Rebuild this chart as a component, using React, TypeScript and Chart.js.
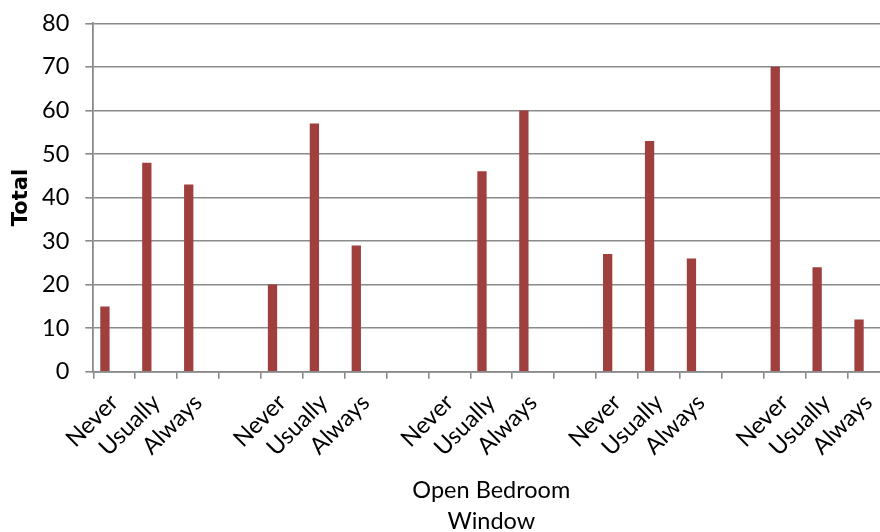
import React, { useEffect, useRef } from "react";
import { Chart, registerables } from "chart.js";

Chart.register(...registerables);

// Three answer levels, repeated per group, with an empty slot between groups
const categories = [
  "Never", "Usually", "Always", "",
  "Never", "Usually", "Always", "",
  "Never", "Usually", "Always", "",
  "Never", "Usually", "Always", "",
  "Never", "Usually", "Always",
];

const totals = [
  15, 48, 43, null,
  20, 57, 29, null,
  0, 46, 60, null,
  27, 53, 26, null,
  70, 24, 12,
];

// Empty companion series that share each slot with the totals
const emptySeriesA = categories.map(() => null);
const emptySeriesB = categories.map(() => null);

const yTicks = [0, 10, 20, 30, 40, 50, 60, 70, 80];

const FONT = "Lato, 'Open Sans', sans-serif";
const FONT_SIZE = 23.5;
const GRID = "#8a8a8a";
const BAR = "#a0403e";

export default function App() {
  const canvasRef = useRef<HTMLCanvasElement | null>(null);

  useEffect(() => {
    const canvas = canvasRef.current;
    if (!canvas) return;
    const chart = new Chart(canvas, {
      type: "bar",
      data: {
        labels: categories,
        datasets: [
          { label: "Total", data: totals, backgroundColor: BAR, borderWidth: 0 },
          { label: "", data: emptySeriesA, backgroundColor: BAR },
          { label: "", data: emptySeriesB, backgroundColor: BAR },
        ],
      },
      options: {
        responsive: false,
        animation: false,
        devicePixelRatio: 1,
        layout: { padding: { top: 23.3, right: 4.7, left: 0, bottom: 0 } },
        datasets: {
          bar: { categoryPercentage: 0.667, barPercentage: 1 },
        },
        plugins: {
          legend: { display: false },
          tooltip: { enabled: false },
        },
        scales: {
          x: {
            type: "category",
            offset: true,
            grid: {
              offset: true,
              drawOnChartArea: false,
              drawTicks: true,
              tickLength: 7,
              color: GRID,
              lineWidth: 1.6,
            },
            border: { color: GRID, width: 1.8 },
            ticks: {
              autoSkip: false,
              maxRotation: 45,
              minRotation: 45,
              color: "#000",
              font: { family: FONT, size: FONT_SIZE },
              padding: 10,
            },
            title: {
              display: true,
              text: ["Open Bedroom", "Window"],
              color: "#000",
              font: { family: FONT, size: FONT_SIZE, lineHeight: 1.32 },
              padding: { top: 0, bottom: -5 },
            },
            afterFit: (scale: any) => {
              scale.height = 160.3;
              scale.paddingLeft = 0;
              scale.paddingRight = 0;
            },
          },
          y: {
            min: 0,
            max: 80,
            afterBuildTicks: (scale: any) => {
              scale.ticks = yTicks.map((v) => ({ value: v }));
            },
            grid: {
              color: GRID,
              lineWidth: 1.6,
              tickLength: 8,
            },
            border: { color: GRID, width: 1.8 },
            ticks: {
              color: "#000",
              font: { family: FONT, size: FONT_SIZE },
              padding: 16,
            },
            title: {
              display: true,
              text: "Total",
              color: "#000",
              font: { family: "'DejaVu Sans', sans-serif", size: 21, weight: "bold" },
              padding: { top: 9, bottom: 0 },
            },
            afterFit: (scale: any) => {
              scale.width = 93.3;
              scale.paddingTop = 0;
              scale.paddingBottom = 0;
            },
          },
        },
      },
    });
    return () => chart.destroy();
  }, []);

  return (
    <div
      style={{
        position: "absolute",
        left: 0,
        top: 0,
        width: 880,
        height: 532,
        overflow: "hidden",
        background: "#fff",
      }}
    >
      <canvas ref={canvasRef} width={894} height={532} />
    </div>
  );
}
